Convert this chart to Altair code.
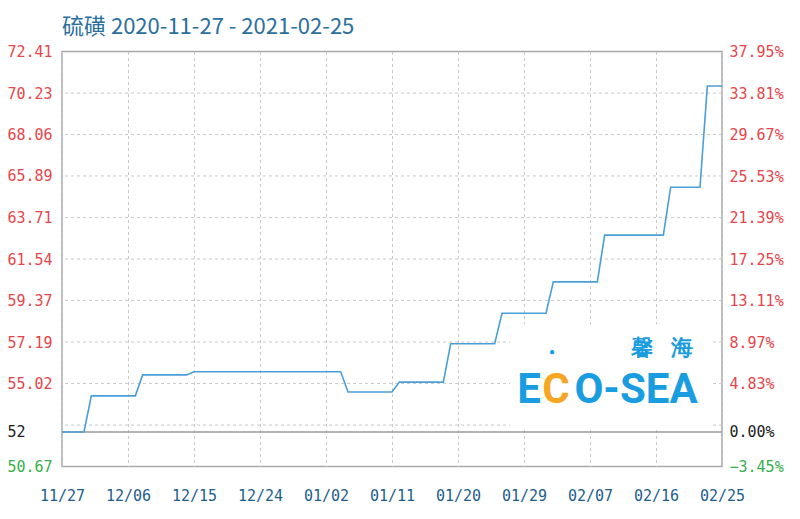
import altair as alt
import pandas as pd

# ---------------- data ----------------
title_text = "硫磺 2020-11-27 - 2021-02-25"
start_date = "2020-11-27"

point_dates = [
    "2020-11-27", "2020-11-30", "2020-12-01", "2020-12-07", "2020-12-08",
    "2020-12-14", "2020-12-15", "2021-01-04", "2021-01-05", "2021-01-11",
    "2021-01-12", "2021-01-18", "2021-01-19", "2021-01-25", "2021-01-26",
    "2021-02-01", "2021-02-02", "2021-02-08", "2021-02-09", "2021-02-17",
    "2021-02-18", "2021-02-22", "2021-02-23", "2021-02-25",
]
point_values = [
    52.48, 52.48, 54.37, 54.37, 55.47,
    55.47, 55.63, 55.63, 54.57, 54.57,
    55.09, 55.09, 57.10, 57.10, 58.70,
    58.70, 60.34, 60.34, 62.79, 62.79,
    65.30, 65.30, 70.60, 70.60,
]

x_tick_days = [0, 9, 18, 27, 36, 45, 54, 63, 72, 81, 90]
x_tick_labels = ["11/27", "12/06", "12/15", "12/24", "01/02", "01/11",
                 "01/20", "01/29", "02/07", "02/16", "02/25"]

base_price = 52.48
price_domain = [50.67, 72.41]
price_ticks = [50.67, 52.48, 55.02, 57.19, 59.37, 61.54, 63.71, 65.89, 68.06, 70.23, 72.41]
price_grid = [52.84, 55.02, 57.19, 59.37, 61.54, 63.71, 65.89, 68.06, 70.23]

pct_domain = [-3.45, 37.95]
pct_ticks = [-3.45, 0.0, 4.83, 8.97, 13.11, 17.25, 21.39, 25.53, 29.67, 33.81, 37.95]
base_pct = [0.0]

# ---------------- styling ----------------
RED = "#e8454a"
GREEN = "#35b04a"
BLACK = "#222222"
XLAB = "#1d5e8d"
TITLE = "#2b6f9e"
LINE = "#4a9fd8"
GRID = "#c8c8c8"
LOGO_BLUE = "#1a9de0"
LOGO_ORANGE = "#f5a623"
MONO = "DejaVu Sans Mono"

df = pd.DataFrame({"date": pd.to_datetime(point_dates), "price": point_values})
df["day"] = (df["date"] - pd.Timestamp(start_date)).dt.days
df = df[["day", "price"]]

one = pd.DataFrame({"k": [0]})

x_scale = alt.Scale(domain=[0, 90], nice=False, zero=False)
price_scale = alt.Scale(domain=price_domain, nice=False, zero=False)
pct_scale = alt.Scale(domain=pct_domain, nice=False, zero=False)

label_js = "[" + ",".join("'" + s + "'" for s in x_tick_labels) + "]"

x_axis = alt.Axis(
    values=x_tick_days,
    labelExpr=label_js + "[round(datum.value / 9)]",
    title=None, domain=False, ticks=False, tickSize=0,
    grid=True, gridColor=GRID, gridDash=[3, 3], gridWidth=1,
    labelFont=MONO, labelFontSize=15, labelColor=XLAB,
    labelPadding=22, labelFlush=False, labelOverlap=False,
)

left_axis = alt.Axis(
    orient="left", values=price_ticks,
    labelExpr="(datum.value > 52.4 && datum.value < 52.6) ? '52' : format(datum.value, '.2f')",
    title=None, domain=False, ticks=False, tickSize=0, grid=False,
    labelFont=MONO, labelFontSize=15, labelAlign="left", labelPadding=55,
    labelOverlap=False, labelFlush=False,
    labelColor={"condition": [
        {"test": "datum.value < 51", "value": GREEN},
        {"test": "datum.value > 52.4 && datum.value < 52.6", "value": BLACK},
    ], "value": RED},
)

right_axis = alt.Axis(
    orient="right", values=pct_ticks,
    labelExpr="format(datum.value, '.2f') + '%'",
    title=None, domain=False, ticks=False, tickSize=0, grid=False,
    labelFont=MONO, labelFontSize=15, labelAlign="left", labelPadding=7,
    labelOverlap=False, labelFlush=False,
    labelColor={"condition": [
        {"test": "datum.value < -1", "value": GREEN},
        {"test": "abs(datum.value) < 0.01", "value": BLACK},
    ], "value": RED},
)

grid = alt.Chart(pd.DataFrame({"price": price_grid})).mark_rule(
    color=GRID, strokeDash=[3, 3], strokeWidth=1
).encode(y=alt.Y("price:Q", scale=price_scale, axis=None))

logo_bg = alt.Chart(one).mark_rect(color="white").encode(
    x=alt.value(448), x2=alt.value(651), y=alt.value(273), y2=alt.value(377)
)

def logo_text(txt, x, y, size, color, weight="bold"):
    return alt.Chart(one).mark_text(
        text=txt, fontSize=size, fontWeight=weight, color=color,
        font="Liberation Sans Narrow, Roboto, Liberation Sans, sans-serif",
        align="center", baseline="middle",
    ).encode(x=alt.value(x), y=alt.value(y))

logo = [
    logo_text("馨", 580, 296, 22, LOGO_BLUE),
    logo_text("海", 620, 296, 22, LOGO_BLUE),
    logo_text("E", 467, 338, 42, LOGO_BLUE),
    logo_text("C", 494, 338, 42, LOGO_ORANGE),
    logo_text("●", 490, 300, 10, LOGO_BLUE),
    logo_text("O-SEA", 574, 338, 42, LOGO_BLUE),
]

baseline = alt.Chart(pd.DataFrame({"pct": base_pct})).mark_rule(
    color="#9a9a9a", strokeWidth=1.5
).encode(y=alt.Y("pct:Q", scale=pct_scale, axis=right_axis))

line = alt.Chart(df).mark_line(color=LINE, strokeWidth=1.6).encode(
    x=alt.X("day:Q", scale=x_scale, axis=x_axis),
    y=alt.Y("price:Q", scale=price_scale, axis=left_axis),
)

title = alt.Chart(one).mark_text(
    text=title_text, fontSize=22, color=TITLE, font="Noto Sans CJK SC",
    align="left", baseline="middle",
).encode(x=alt.value(0), y=alt.value(-25))

chart = alt.layer(grid, logo_bg, *logo, baseline, line, title).resolve_scale(
    y="independent"
).properties(
    width=660, height=415,
    autosize=alt.AutoSizeParams(type="none"),
    padding={"left": 54, "top": 43.5, "right": 70, "bottom": 40},
).configure_view(stroke="#a8a8a8", strokeWidth=1.5)

chart.save("out.html", embed_options={"renderer": "svg", "actions": False})
